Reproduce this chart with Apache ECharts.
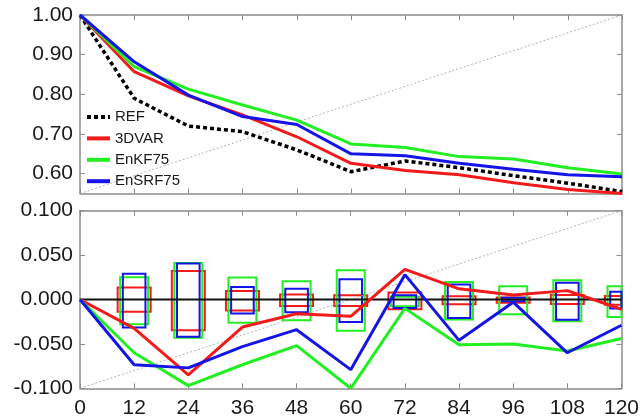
<!DOCTYPE html>
<html><head><meta charset="utf-8">
<script src="https://cdn.jsdelivr.net/npm/echarts@6/dist/echarts.min.js"></script>
<style>html,body{margin:0;padding:0;background:#fff}#c{width:642px;height:419px}</style>
</head><body><div id="c"></div>
<script>
// ---- data ----
const hours = [0, 12, 24, 36, 48, 60, 72, 84, 96, 108, 120];
const boxHours = [12, 24, 36, 48, 60, 72, 84, 96, 108, 120];
const topTickValues = [0.6, 0.7, 0.8, 0.9, 1.0];

// top panel: correlation
const refTop   = [1.00, 0.790, 0.720, 0.706, 0.660, 0.605, 0.632, 0.615, 0.595, 0.576, 0.555];
const var3Top  = [1.00, 0.857, 0.796, 0.748, 0.693, 0.626, 0.608, 0.597, 0.577, 0.560, 0.550];
const enkfTop  = [1.00, 0.870, 0.813, 0.773, 0.735, 0.675, 0.666, 0.643, 0.637, 0.615, 0.599];
const ensrfTop = [1.00, 0.882, 0.798, 0.744, 0.724, 0.650, 0.645, 0.626, 0.611, 0.597, 0.592];

// bottom panel: differences
const var3Diff  = [0, -0.0325, -0.085, -0.031, -0.016, -0.019, 0.034, 0.012, 0.005, 0.010, -0.011];
const enkfDiff  = [0, -0.060, -0.097, -0.0735, -0.052, -0.100, -0.010, -0.051, -0.050, -0.058, -0.044];
const ensrfDiff = [0, -0.0735, -0.077, -0.053, -0.034, -0.079, 0.028, -0.046, -0.003, -0.060, -0.029];

// bottom panel: uncertainty boxes (low, high)
const var3BoxLo  = [-0.0138, -0.0346, -0.0124, -0.0072, -0.0072, -0.0109, -0.0053, -0.0038, -0.0050, -0.0060];
const var3BoxHi  = [ 0.0134,  0.0320,  0.0097,  0.0056,  0.0048,  0.0079,  0.0037,  0.0023,  0.0050,  0.0040];
const enkfBoxLo  = [-0.0280, -0.0430, -0.0263, -0.0233, -0.0353, -0.0075, -0.0225, -0.0165, -0.0245, -0.0196];
const enkfBoxHi  = [ 0.0250,  0.0410,  0.0248,  0.0206,  0.0330,  0.0030,  0.0198,  0.0150,  0.0217,  0.0150];
const ensrfBoxLo = [-0.0315, -0.0420, -0.0158, -0.0143, -0.0252, -0.0095, -0.0207, -0.0020, -0.0228, -0.0101];
const ensrfBoxHi = [ 0.0290,  0.0405,  0.0142,  0.0120,  0.0229,  0.0048,  0.0169,  0.0020,  0.0188,  0.0086];

const diagTop = [[0, 0.55], [120, 1.0]];
const diagBottom = [[0, -0.1], [120, 0.1]];
const zeroLine = [[0, 0], [120, 0]];

// ---- chart ----
const FONT = 'Liberation Sans, Arial, sans-serif';
const RED = '#f21a1a', GREEN = '#22ee22', BLUE = '#1414e8', AX = '#8c8c8c';
const pair = (xs, ys) => xs.map((x, i) => [x, ys[i]]);
const triple = (xs, lo, hi) => xs.map((x, i) => [x, lo[i], hi[i]]);

function axisBase(extra) {
  return Object.assign({
    type: 'value',
    axisLine: { show: true, onZero: false, lineStyle: { color: AX, width: 1.5 } },
    axisTick: { show: true, inside: true, length: 5, lineStyle: { color: AX, width: 1 } },
    splitLine: { show: false },
    axisLabel: { show: false }
  }, extra);
}
const labelStyle = { show: true, fontSize: 21, color: '#1a1a1a', fontFamily: FONT };

function boxRender(hw, color) {
  return function (params, api) {
    const x = api.value(0), lo = api.value(1), hi = api.value(2);
    const p1 = api.coord([x, hi]), p2 = api.coord([x, lo]);
    const cs = params.coordSys;
    const r = echarts.graphic.clipRectByRect(
      { x: p1[0] - hw, y: p1[1], width: 2 * hw, height: p2[1] - p1[1] },
      { x: cs.x, y: cs.y, width: cs.width, height: cs.height });
    if (!r) return;
    return { type: 'rect', shape: r, style: { fill: 'none', stroke: color, lineWidth: 2 } };
  };
}

function lineSeries(name, data, color, xi, yi, extra) {
  return Object.assign({
    name: name, type: 'line', data: data, xAxisIndex: xi, yAxisIndex: yi,
    symbol: 'none', animation: false, silent: true,
    lineStyle: { color: color, width: 3 }, itemStyle: { color: color }
  }, extra || {});
}

const chart = echarts.init(document.getElementById('c'), null, { renderer: 'canvas' });
chart.setOption({
  backgroundColor: '#fff',
  animation: false,
  grid: [
    { left: 80, right: 20, top: 15, height: 178.5 },
    { left: 80, right: 20, top: 210.7, height: 177.6 }
  ],
  legend: {
    data: ['REF', '3DVAR', 'EnKF75', 'EnSRF75'],
    orient: 'vertical', left: 80, top: 104,
    itemWidth: 23, itemHeight: 16, itemGap: 5.4,
    itemStyle: { opacity: 0 },
    lineStyle: { width: 4 },
    textStyle: { fontSize: 15, color: '#1a1a1a', fontFamily: FONT, lineHeight: 16 },
    selectedMode: false
  },
  xAxis: [
    axisBase({ gridIndex: 0, min: 0, max: 120, interval: 12, position: 'bottom' }),
    axisBase({ gridIndex: 0, min: 0, max: 120, interval: 12, position: 'top' }),
    axisBase({ gridIndex: 1, min: 0, max: 120, interval: 12, position: 'bottom',
      axisLabel: Object.assign({ margin: 9 }, labelStyle) }),
    axisBase({ gridIndex: 1, min: 0, max: 120, interval: 12, position: 'top' })
  ],
  yAxis: [
    axisBase({ gridIndex: 0, min: 0.55, max: 1.0, position: 'left',
      axisTick: { show: true, inside: true, length: 5, lineStyle: { color: AX, width: 1 }, customValues: topTickValues },
      axisLabel: Object.assign({ margin: 7, customValues: topTickValues, formatter: v => v.toFixed(2) }, labelStyle) }),
    axisBase({ gridIndex: 0, min: 0.55, max: 1.0, position: 'right',
      axisTick: { show: true, inside: true, length: 5, lineStyle: { color: AX, width: 1 }, customValues: topTickValues } }),
    axisBase({ gridIndex: 1, min: -0.1, max: 0.1, interval: 0.05, position: 'left',
      axisLabel: Object.assign({ margin: 7, formatter: v => v.toFixed(3) }, labelStyle) }),
    axisBase({ gridIndex: 1, min: -0.1, max: 0.1, interval: 0.05, position: 'right' })
  ],
  series: [
    // top panel
    lineSeries('diagTop', diagTop, '#b0b0b0', 0, 0, { lineStyle: { color: '#b0b0b0', width: 1, type: [2, 2] } }),
    lineSeries('REF', pair(hours, refTop), '#000', 0, 0, { lineStyle: { color: '#000', width: 3.5, type: [4, 3] } }),
    lineSeries('3DVAR', pair(hours, var3Top), RED, 0, 0),
    lineSeries('EnKF75', pair(hours, enkfTop), GREEN, 0, 0),
    lineSeries('EnSRF75', pair(hours, ensrfTop), BLUE, 0, 0),
    // bottom panel
    lineSeries('diagBottom', diagBottom, '#b0b0b0', 2, 2, { lineStyle: { color: '#b0b0b0', width: 1, type: [2, 2] } }),
    lineSeries('zero', zeroLine, '#000', 2, 2, { lineStyle: { color: '#111', width: 2 } }),
    { name: 'box3DVAR', type: 'custom', xAxisIndex: 2, yAxisIndex: 2, silent: true, animation: false,
      renderItem: boxRender(16.5, RED), encode: { x: 0, y: [1, 2] }, data: triple(boxHours, var3BoxLo, var3BoxHi) },
    { name: 'boxEnKF', type: 'custom', xAxisIndex: 2, yAxisIndex: 2, silent: true, animation: false,
      renderItem: boxRender(14, GREEN), encode: { x: 0, y: [1, 2] }, data: triple(boxHours, enkfBoxLo, enkfBoxHi) },
    { name: 'boxEnSRF', type: 'custom', xAxisIndex: 2, yAxisIndex: 2, silent: true, animation: false,
      renderItem: boxRender(11.3, BLUE), encode: { x: 0, y: [1, 2] }, data: triple(boxHours, ensrfBoxLo, ensrfBoxHi) },
    lineSeries('3DVAR diff', pair(hours, var3Diff), RED, 2, 2),
    lineSeries('EnKF75 diff', pair(hours, enkfDiff), GREEN, 2, 2),
    lineSeries('EnSRF75 diff', pair(hours, ensrfDiff), BLUE, 2, 2)
  ]
});
</script>
</body></html>
